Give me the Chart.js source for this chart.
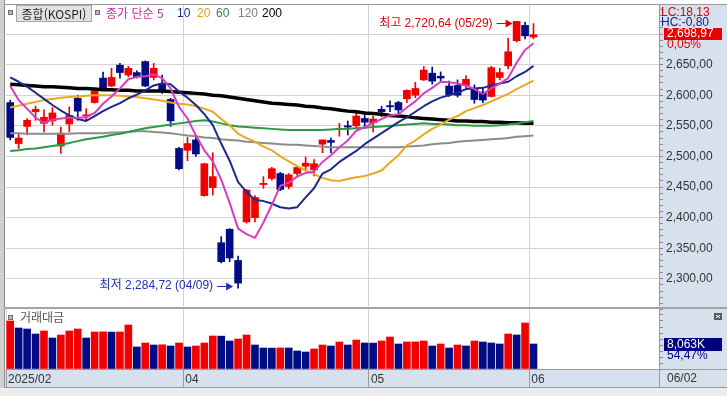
<!DOCTYPE html>
<html lang="ko">
<head>
<meta charset="utf-8">
<title>종합(KOSPI)</title>
<script src="https://cdn.jsdelivr.net/npm/chart.js@4.4.1/dist/chart.umd.min.js"></script>
<style>
  html, body { margin: 0; padding: 0; background: #fff; }
  #screen { position: relative; width: 727px; height: 396px; overflow: hidden;
    font: 12px "Liberation Sans", "Noto Sans CJK KR", sans-serif; color: #333; }
  #screen div, #screen canvas { position: absolute; }
  .scale-bg { background: #d7e1ed; }
  .line-h { height: 1px; background: #9a9a9a; }
  .kr { font-family: "Noto Sans CJK KR", sans-serif; }
  .icon { width: 3px; height: 3px; background: #b8b8b8; border: 1px solid #707070; }
  .lg { top: 5px; line-height: 16px; white-space: nowrap; }
</style>
</head>
<body>
<div id="screen">
  <div class="scale-bg" style="left:659px;top:5px;width:68px;height:383px"></div>
  <div class="scale-bg" style="left:5px;top:370px;width:654px;height:17px"></div>
  <div style="left:0;top:0;width:4px;height:396px;background:#d0d0d0"></div>
  <div style="left:4px;top:0;width:1px;height:388px;background:#8c8c8c"></div>
  <div class="line-h" style="left:4px;top:4px;width:723px"></div>
  <div style="left:4px;top:307px;width:723px;height:2px;background:#a4a4a4"></div>
  <div class="line-h" style="left:659px;top:369px;width:68px"></div>
  <div style="left:659px;top:369px;width:1px;height:19px;background:#9a9a9a"></div>
  <div class="line-h" style="left:4px;top:387px;width:723px"></div>
  <div style="left:0;top:388px;width:727px;height:8px;background:#ececec"></div>

  <canvas id="price" width="727" height="301" style="left:0;top:5px"></canvas>
  <canvas id="volume" width="727" height="79" style="left:0;top:309px"></canvas>

  <div class="icon" style="left:8px;top:10px"></div>
  <div class="kr" style="left:16px;top:5px;width:74px;height:15px;background:#e2e2e2;border:1px solid #a8a8a8;line-height:15px;text-align:center;color:#222">종합(KOSPI)</div>
  <div class="icon" style="left:95px;top:10px"></div>
  <div class="lg kr" style="left:106px;color:#c42aa8">종가 단순 5</div>
  <div class="lg" style="left:177px;color:#1c2a8e">10</div>
  <div class="lg" style="left:197px;color:#e0a020">20</div>
  <div class="lg" style="left:216px;color:#2a8a40">60</div>
  <div class="lg" style="left:238px;color:#808080">120</div>
  <div class="lg" style="left:262px;color:#000">200</div>

  <div style="left:661px;top:5px;color:#e00000">LC:18,13</div>
  <div style="left:661px;top:15px;color:#1a237e">HC:-0,80</div>

  <div class="icon" style="left:8px;top:315px"></div>
  <div class="kr" style="left:20px;top:309px;line-height:16px;color:#555">거래대금</div>
  <div style="left:667px;top:371px;color:#333">06/02</div>
</div>

<script>
// values: one entry per trading day
const dates = ['02/28',
  '03/04','03/05','03/06','03/07','03/10','03/11','03/12','03/13','03/14','03/17',
  '03/18','03/19','03/20','03/21','03/24','03/25','03/26','03/27','03/28','03/31',
  '04/01','04/02','04/03','04/04','04/07','04/08','04/09','04/10','04/11','04/14',
  '04/15','04/16','04/17','04/18','04/21','04/22','04/23','04/24','04/25','04/28',
  '04/29','04/30',
  '05/02','05/07','05/08','05/09','05/12','05/13','05/14','05/15','05/16','05/19',
  '05/20','05/21','05/22','05/23','05/26','05/27','05/28','05/29','05/30',
  '06/02'];

const opens = [2588,2521,2549,2573,2554,2558,2517,2553,2595,2566,
  2588,2628,2615,2649,2633,2637,2655,2629,2619,2593,
  2513,2510,2527,2436,2449,2359,2381,2330,2393,2400,
  2454,2464,2472,2451,2472,2484,2478,2520,2526,2544,
  2550,2550,2562,2555,2577,2583,2588,2594,2600,2625,
  2636,2631,2615,2616,2616,2610,2605,2598,2629,2648,
  2689,2714,2695];
const highs = [2592,2538,2562,2582,2576,2580,2548,2581,2600,2578,
  2610,2638,2644,2652,2647,2640,2656,2652,2633,2595,
  2515,2531,2531,2489,2506,2369,2382,2337,2446,2436,
  2467,2482,2474,2472,2483,2499,2495,2527,2530,2554,
  2558,2571,2573,2566,2582,2591,2590,2609,2621,2647,
  2646,2638,2623,2625,2632,2617,2611,2647,2644,2693,
  2720.64,2719,2717];
const lows = [2527,2513,2535,2559,2540,2551,2505,2540,2559,2560,
  2587,2610,2614,2628,2630,2628,2614,2625,2603,2549,
  2478,2493,2500,2435,2437,2326,2328,2284.72,2391,2393,
  2448,2461,2444,2447,2469,2478,2468,2506,2506,2533,
  2535,2546,2546,2540,2565,2573,2570,2588,2596,2624,
  2618,2622,2598,2597,2610,2587,2588,2597,2625,2643,
  2687,2692,2692];
const closes = [2531,2530,2559,2577,2564,2571,2538,2567,2574,2568,
  2607,2612,2629,2637,2644,2630,2615,2644,2606,2558,
  2480,2521,2504,2488,2467,2328,2334,2293,2445,2433,
  2456,2480,2446,2470,2482,2489,2488,2527,2523,2546,
  2548,2566,2556,2561,2573,2581,2576,2608,2611,2641,
  2623,2628,2601,2600,2626,2593,2592,2645,2637,2671,
  2720.6,2697,2698.97];

// trading value, thousands
const volumes = [15485,13226,12903,11290,12258,10000,10968,12258,12903,10000,
  11936,11990,11900,11950,14194,7097,8387,7742,7800,7419,
  8387,7097,7419,8387,10645,10600,9032,9677,10968,7742,
  6774,6750,6800,6770,5806,5484,6452,7742,7419,8710,
  7742,9355,8387,8350,9032,10323,8065,8710,8750,9032,
  7419,8065,6774,7742,7419,9032,8710,8387,8065,11290,
  10968,14839,8063];

const ma5 = [2615,2592,2578,2563,2555,2560,2562,2563,2563,2564,
  2571,2586,2598,2611,2626,2630,2631,2634,2628,2611,
  2581,2562,2534,2510,2492,2462,2424,2382,2373,2367,
  2392,2421,2452,2457,2467,2473,2475,2491,2502,2515,
  2526,2542,2548,2555,2561,2567,2569,2580,2590,2603,
  2612,2622,2621,2619,2616,2610,2602,2611,2619,2628,
  2653,2674,2685];
const ma10 = [2629,2622,2614,2604,2594,2584,2575,2567,2561,2558,
  2566,2574,2581,2587,2595,2601,2608,2616,2619,2618,
  2606,2596,2584,2569,2551,2521,2493,2458,2442,2429,
  2427,2423,2417,2415,2417,2433,2448,2472,2479,2491,
  2500,2509,2520,2529,2538,2547,2556,2564,2573,2582,
  2590,2596,2600,2604,2610,2611,2612,2616,2619,2622,
  2631,2638,2648];
const ma20 = [2580,2583,2586,2589,2592,2594,2596,2597,2598,2599,
  2600,2600,2600,2599,2598,2597,2595,2593,2591,2588,
  2586,2585,2582,2578,2573,2561,2551,2537,2530,2524,
  2516,2510,2500,2492,2484,2477,2471,2465,2461,2460,
  2463,2466,2468,2472,2477,2490,2502,2518,2526,2536,
  2545,2552,2560,2566,2574,2579,2584,2590,2596,2602,
  2610,2617,2624];
const ma60 = [2509,2510,2512,2513,2515,2517,2519,2522,2525,2528,
  2530,2532,2535,2537,2540,2543,2546,2548,2550,2552,
  2554,2556,2558,2559,2557,2554,2551,2549,2548,2547,
  2546,2545,2544,2543,2543,2543,2543,2543,2544,2545,
  2545,2546,2547,2548,2549,2550,2551,2552,2553,2554,
  2553,2553,2552,2551,2551,2550,2550,2550,2551,2552,
  2554,2556,2558];
const ma120 = [2538,2538,2537,2537,2537,2537,2537,2537,2538,2538,
  2538,2538,2539,2539,2540,2541,2541,2540,2539,2538,
  2536,2534,2533,2531,2530,2528,2527,2526,2524,2523,
  2522,2521,2520,2519,2519,2518,2517,2516,2515,2515,
  2515,2515,2515,2515,2515,2515,2515,2516,2517,2518,
  2520,2521,2522,2524,2525,2526,2527,2528,2529,2530,
  2532,2533,2534];
const ma200 = [2618,2617,2616,2615,2614,2614,2613,2612,2611,2611,
  2610,2609,2609,2608,2608,2607,2607,2607,2607,2606,
  2605,2604,2603,2602,2600,2599,2597,2595,2593,2591,
  2589,2587,2586,2585,2584,2582,2581,2579,2578,2576,
  2574,2573,2571,2570,2569,2567,2566,2565,2563,2562,
  2561,2560,2559,2558,2558,2557,2557,2556,2556,2555,
  2555,2554,2554];

// first trading day of each labelled month
const dateTickIdx = [0, 21, 43, 62];
const dateTickLabels = ['2025/02', '04', '05', '06'];

const lastChangePct = 0.05;
const lastVolumeShare = 54.47;

const UP = '#f20000';
const DOWN = '#000c84';
const FONT = '12px "Liberation Sans", "Noto Sans CJK KR", sans-serif';
const X_MIN = -0.5, X_MAX = 76.87;

Chart.defaults.font.family = '"Liberation Sans", "Noto Sans CJK KR", sans-serif';
Chart.defaults.font.size = 12;

const idx = closes.map((_, i) => i);
const candleColors = idx.map(i => closes[i] >= opens[i] ? UP : DOWN);
const volumeColors = idx.map(i => i === 0 || volumes[i] > volumes[i - 1] ? UP : DOWN);
const monthEdges = dateTickIdx.map(i => i - 0.5);

// 2698.97 -> "2,698,97" like the trading screen shows it
function fmt(v, d = 2) {
  const [a, b] = v.toFixed(d).split('.');
  return a.replace(/\B(?=(\d{3})+(?!\d))/g, ',') + (b ? ',' + b : '');
}

function note(ctx, tipX, tipY, text, color) {
  const ay = Math.round(tipY) + 0.5;
  ctx.strokeStyle = color;
  ctx.fillStyle = color;
  ctx.lineWidth = 1;
  ctx.beginPath();
  ctx.moveTo(tipX - 16, ay);
  ctx.lineTo(tipX - 5, ay);
  ctx.stroke();
  ctx.beginPath();
  ctx.moveTo(tipX, ay);
  ctx.lineTo(tipX - 7, ay - 4);
  ctx.lineTo(tipX - 7, ay + 4);
  ctx.closePath();
  ctx.fill();
  ctx.textAlign = 'right';
  ctx.fillText(text, tipX - 20, tipY);
}

const priceNotes = {
  id: 'priceNotes',
  afterDraw(chart) {
    const { ctx, scales: { x, y } } = chart;
    const top = highs.indexOf(Math.max(...highs));
    const bottom = lows.indexOf(Math.min(...lows));
    ctx.save();
    ctx.font = FONT;
    ctx.textBaseline = 'middle';
    note(ctx, x.getPixelForValue(top) - 4, y.getPixelForValue(highs[top]) + 2,
      `최고 ${fmt(highs[top])} (${dates[top]})`, '#e00000');
    note(ctx, x.getPixelForValue(bottom) - 5, y.getPixelForValue(lows[bottom]) - 2,
      `최저 ${fmt(lows[bottom])} (${dates[bottom]})`, '#2030b0');

    // last close tag on the price scale
    const last = closes.length - 1;
    const ly = Math.round(y.getPixelForValue(closes[last]));
    ctx.fillStyle = '#e60000';
    ctx.fillRect(y.left + 5, ly - 7, 58, 12);
    ctx.textAlign = 'left';
    ctx.fillStyle = '#fff';
    ctx.fillText(fmt(closes[last]), y.left + 8, ly - 1);
    ctx.fillStyle = '#e00000';
    ctx.fillText(fmt(lastChangePct) + '%', y.left + 8, ly + 10);
    ctx.restore();
  }
};

const volumeTag = {
  id: 'volumeTag',
  afterDraw(chart) {
    const { ctx, scales: { y } } = chart;
    const last = volumes.length - 1;
    const vy = Math.round(y.getPixelForValue(volumes[last]));
    ctx.save();
    ctx.font = FONT;
    ctx.textBaseline = 'middle';
    ctx.textAlign = 'left';
    ctx.fillStyle = '#000080';
    ctx.fillRect(y.left + 5, vy - 6, 58, 13);
    ctx.fillStyle = '#fff';
    ctx.fillText(fmt(volumes[last], 0) + 'K', y.left + 8, vy + 0.5);
    ctx.fillStyle = '#000080';
    ctx.fillText(fmt(lastVolumeShare) + '%', y.left + 8, vy + 12);
    // pane close box
    ctx.fillStyle = '#5a5a5a';
    ctx.fillRect(y.right - 13, 4, 8, 7);
    ctx.strokeStyle = '#fff';
    ctx.beginPath();
    ctx.moveTo(y.right - 11, 6); ctx.lineTo(y.right - 7, 9);
    ctx.moveTo(y.right - 7, 6); ctx.lineTo(y.right - 11, 9);
    ctx.stroke();
    ctx.restore();
  }
};

function rightScale(width) {
  return s => { s.width = width; s.paddingTop = 0; s.paddingBottom = 0; };
}

const maLines = [
  ['MA5', ma5, '#d83cc0', 2],
  ['MA10', ma10, '#1c2a8e', 2],
  ['MA20', ma20, '#eaa81e', 2],
  ['MA60', ma60, '#2a9a44', 2],
  ['MA120', ma120, '#8c8c8c', 2],
  ['MA200', ma200, '#000000', 3.5]
].map(([label, values, color, width]) => ({
  type: 'line',
  label,
  data: values.map((v, i) => ({ x: i, y: v })),
  borderColor: color,
  borderWidth: width,
  borderJoinStyle: 'round',
  pointRadius: 0,
  tension: 0,
  order: 0
}));

new Chart(document.getElementById('price'), {
  type: 'bar',
  data: {
    datasets: [
      ...maLines,
      {
        label: 'body',
        data: idx.map(i => ({ x: i, y: [opens[i], closes[i]] })),
        backgroundColor: candleColors,
        grouped: false,
        categoryPercentage: 1,
        barPercentage: 1,
        maxBarThickness: 7,
        minBarLength: 1,
        order: 1
      },
      {
        label: 'wick',
        data: idx.map(i => ({ x: i, y: [lows[i], highs[i]] })),
        backgroundColor: candleColors,
        grouped: false,
        categoryPercentage: 1,
        barPercentage: 1,
        maxBarThickness: 1,
        order: 2
      }
    ]
  },
  options: {
    responsive: false,
    animation: false,
    events: [],
    layout: { padding: { left: 6 } },
    plugins: { legend: { display: false }, tooltip: { enabled: false } },
    scales: {
      x: {
        type: 'linear',
        offset: false,
        min: X_MIN,
        max: X_MAX,
        afterBuildTicks: s => { s.ticks = monthEdges.slice(1).map(v => ({ value: v })); },
        afterFit: s => { s.height = 0; s.paddingLeft = 0; s.paddingRight = 0; },
        ticks: { display: false },
        grid: { color: '#d2d2d2', drawTicks: false, offset: false },
        border: { display: false }
      },
      y: {
        position: 'right',
        min: 2255.6,
        max: 2747.4,
        afterFit: rightScale(68),
        ticks: {
          stepSize: 10,
          maxTicksLimit: 1000,
          autoSkip: false,
          includeBounds: false,
          padding: 3,
          color: '#333',
          callback: v => Math.round(v) % 50 === 0 ? fmt(v) : ''
        },
        grid: {
          color: c => c.tick && Math.round(c.tick.value) % 50 === 0 ? '#d2d2d2' : 'rgba(0,0,0,0)',
          tickLength: 4,
          tickColor: '#8a8a8a'
        },
        border: { color: '#9a9a9a' }
      }
    }
  },
  plugins: [priceNotes]
});

new Chart(document.getElementById('volume'), {
  type: 'bar',
  data: {
    datasets: [{
      label: '거래대금',
      data: idx.map(i => ({ x: i, y: volumes[i] })),
      backgroundColor: volumeColors,
      barThickness: 7
    }]
  },
  options: {
    responsive: false,
    animation: false,
    events: [],
    layout: { padding: { left: 6 } },
    plugins: { legend: { display: false }, tooltip: { enabled: false } },
    scales: {
      x: {
        type: 'linear',
        offset: false,
        min: X_MIN,
        max: X_MAX,
        afterBuildTicks: s => { s.ticks = monthEdges.map(v => ({ value: v })); },
        afterFit: s => { s.height = 19; s.paddingLeft = 0; s.paddingRight = 0; },
        ticks: {
          autoSkip: false,
          maxRotation: 0,
          minRotation: 0,
          align: 'start',
          labelOffset: 2,
          padding: -16,
          color: '#333',
          callback: (v, i) => dateTickLabels[i]
        },
        grid: { color: '#d2d2d2', tickLength: 19, tickColor: '#9a9a9a', offset: false },
        border: { color: '#9a9a9a' }
      },
      y: {
        position: 'right',
        min: 0,
        max: 19355,
        afterFit: rightScale(68),
        ticks: {
          stepSize: 2000,
          autoSkip: false,
          includeBounds: false,
          padding: 3,
          color: '#333',
          callback: v => v === 10000 ? fmt(v, 0) + 'K' : ''
        },
        grid: {
          color: c => c.tick && c.tick.value === 10000 ? '#d2d2d2' : 'rgba(0,0,0,0)',
          tickLength: 4,
          tickColor: '#8a8a8a'
        },
        border: { color: '#9a9a9a' }
      }
    }
  },
  plugins: [volumeTag]
});
</script>
</body>
</html>
